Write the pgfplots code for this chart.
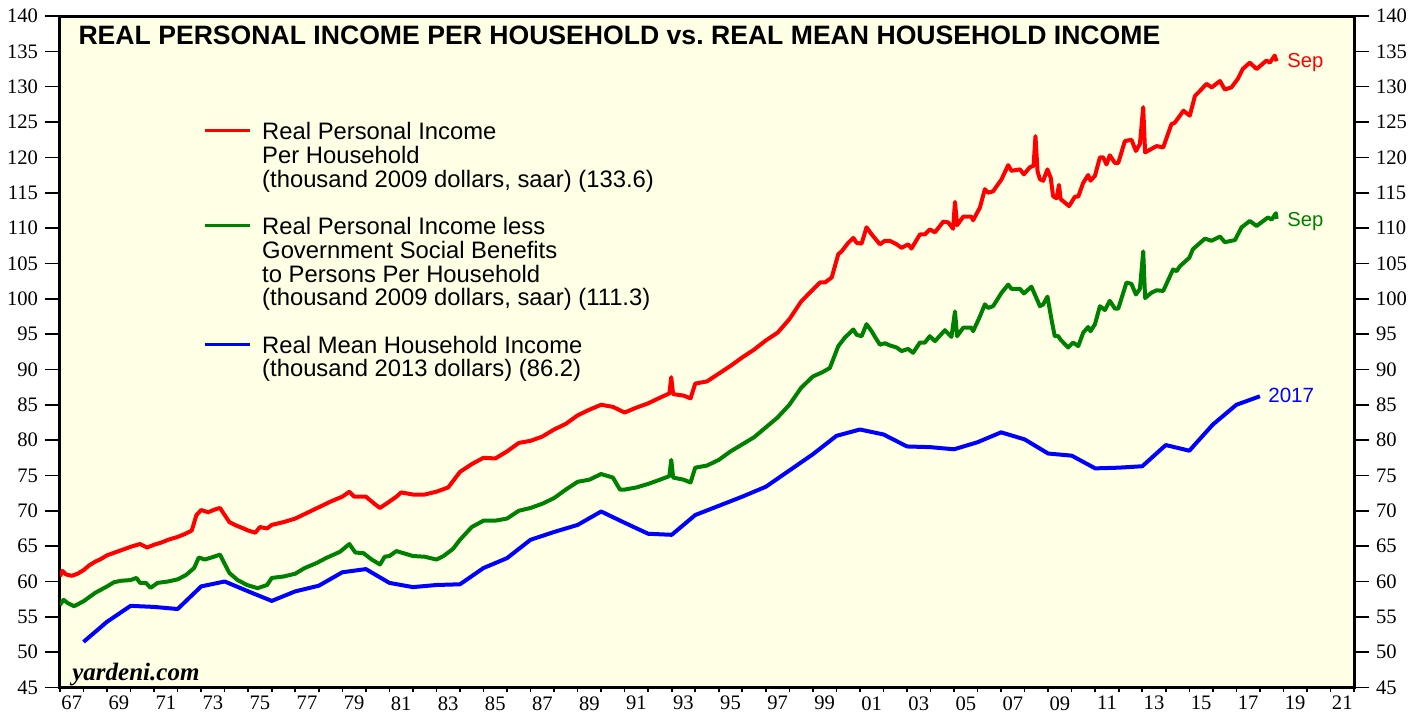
\documentclass[border=0pt]{standalone}
\usepackage{fontspec}
\setmainfont{Liberation Serif}
\newfontfamily\arial{Liberation Sans}
\usepackage{pgfplots}
\pgfplotsset{compat=1.18}
\definecolor{bgy}{RGB}{255,255,230}
\definecolor{rline}{RGB}{255,0,0}
\definecolor{gline}{RGB}{0,128,0}
\definecolor{bline}{RGB}{0,0,255}
\newcommand\ls{\rule[-3.56pt]{0pt}{11.86pt}}
\begin{document}
\begin{tikzpicture}
\begin{axis}[name=ax, scale only axis, width=647pt, height=335.75pt,
 xmin=1967, xmax=2022, ymin=45, ymax=140,
 axis background/.style={fill=bgy},
 axis line style={line width=1.5pt},
 tick align=outside, tick pos=left,
 major tick length=7.5pt, minor tick length=2.5pt,
 tick style={black, line width=0.8pt},
 ytick={45,50,...,140},
 xtick={1967.5,1969.5,...,2021.5},
 xticklabels={67,69,71,73,75,77,79,81,83,85,87,89,91,93,95,97,99,01,03,05,07,09,11,13,15,17,19,21},
 minor xtick={1967,1968,...,2022},
 every major x tick/.append style={draw=none},
 xticklabel style={yshift=6.6pt},
 ticklabel style={font=\fontsize{10.3}{12}\selectfont},
 /pgf/number format/assume math mode=true,
 legend style={at={(axis cs:1973.08,124.92)}, anchor=north west, draw=none, fill=none,
   inner sep=0pt, outer sep=0pt, row sep={11.85pt,between origins}, column sep=5.5pt,
   cells={anchor=base west}, nodes={inner sep=0pt},
   font=\arial\fontsize{11.9}{11.85}\selectfont},
 legend image code/.code={\draw[#1, line width=1.6pt] (0pt,4.5pt) -- (22.5pt,4.5pt);},
]
\addplot[rline, line width=2pt, line join=round] table {
1967.00 60.7
1967.10 61.5
1967.25 61.0
1967.50 60.8
1967.75 61.1
1968.00 61.6
1968.25 62.3
1968.50 62.8
1968.75 63.2
1969.00 63.7
1969.50 64.3
1970.00 64.9
1970.40 65.3
1970.70 64.8
1971.00 65.2
1971.30 65.5
1971.60 65.9
1972.00 66.3
1972.30 66.7
1972.60 67.2
1972.80 69.4
1973.00 70.1
1973.30 69.8
1973.60 70.2
1973.80 70.4
1974.00 69.4
1974.20 68.4
1974.50 67.9
1974.80 67.5
1975.00 67.2
1975.30 66.9
1975.50 67.7
1975.80 67.5
1976.00 68.0
1976.50 68.4
1977.00 68.9
1977.50 69.7
1978.00 70.5
1978.50 71.3
1979.00 72.0
1979.30 72.7
1979.50 72.0
1980.00 72.0
1980.40 70.9
1980.60 70.4
1981.00 71.3
1981.30 72.0
1981.50 72.6
1982.00 72.3
1982.50 72.3
1983.00 72.7
1983.50 73.3
1984.00 75.5
1984.50 76.6
1985.00 77.5
1985.50 77.4
1986.00 78.4
1986.50 79.6
1987.00 79.9
1987.50 80.5
1988.00 81.5
1988.50 82.3
1989.00 83.5
1989.50 84.3
1990.00 85.0
1990.50 84.7
1991.00 83.9
1991.50 84.6
1992.00 85.2
1992.50 86.0
1992.90 86.6
1992.98 88.9
1993.06 86.5
1993.50 86.3
1993.80 85.9
1994.00 88.0
1994.50 88.3
1995.00 89.4
1995.50 90.5
1996.00 91.7
1996.50 92.8
1997.00 94.1
1997.50 95.2
1998.00 97.1
1998.50 99.6
1999.00 101.3
1999.30 102.3
1999.51 102.3
1999.80 103.0
2000.08 106.3
2000.22 106.7
2000.50 107.9
2000.72 108.6
2000.86 107.9
2001.07 107.8
2001.28 110.1
2001.50 109.1
2001.85 107.7
2002.06 108.2
2002.27 108.2
2002.56 107.7
2002.77 107.2
2003.05 107.7
2003.19 107.1
2003.55 109.1
2003.76 109.1
2003.97 109.8
2004.19 109.4
2004.54 110.9
2004.75 110.8
2004.96 109.9
2005.04 113.7
2005.13 110.4
2005.39 111.6
2005.74 111.6
2005.81 111.1
2006.10 112.9
2006.31 115.5
2006.45 115.0
2006.66 115.2
2007.02 116.9
2007.30 118.9
2007.44 118.1
2007.80 118.3
2007.97 117.6
2008.22 118.6
2008.38 118.8
2008.46 123.0
2008.55 118.0
2008.65 116.9
2008.79 116.7
2008.97 118.3
2009.11 117.1
2009.21 114.5
2009.36 114.2
2009.46 116.1
2009.53 114.1
2009.71 113.6
2009.89 113.1
2010.14 114.45
2010.28 114.45
2010.49 116.4
2010.70 117.5
2010.80 116.7
2010.99 117.4
2011.20 120.0
2011.34 120.0
2011.48 119.0
2011.62 120.3
2011.84 119.2
2011.98 119.2
2012.26 122.3
2012.54 122.5
2012.73 120.9
2012.90 121.9
2013.04 127.1
2013.12 120.7
2013.39 121.2
2013.61 121.6
2013.89 121.4
2014.24 124.7
2014.38 124.9
2014.60 125.9
2014.75 126.6
2015.02 125.9
2015.24 128.7
2015.45 129.4
2015.73 130.4
2015.95 129.9
2016.30 130.8
2016.51 129.6
2016.79 129.9
2017.06 131.1
2017.27 132.5
2017.57 133.4
2017.86 132.5
2018.28 133.7
2018.42 133.4
2018.63 134.4
2018.71 133.6
};
\addlegendentry{Real Personal Income\ls}
\addlegendimage{empty legend}\addlegendentry{Per Household\ls}
\addlegendimage{empty legend}\addlegendentry{(thousand 2009 dollars, saar) (133.6)\ls}
\addlegendimage{empty legend}\addlegendentry{\ls}
\addplot[gline, line width=2pt, line join=round] table {
1967.00 56.7
1967.15 57.4
1967.35 56.9
1967.60 56.5
1968.00 57.2
1968.50 58.4
1969.00 59.3
1969.30 59.9
1969.60 60.1
1970.00 60.2
1970.25 60.5
1970.40 59.8
1970.65 59.8
1970.85 59.1
1971.15 59.8
1971.60 60.0
1972.00 60.3
1972.35 60.9
1972.70 61.9
1972.90 63.4
1973.15 63.1
1973.45 63.4
1973.80 63.8
1973.95 62.8
1974.20 61.2
1974.55 60.2
1974.95 59.5
1975.40 59.05
1975.80 59.5
1976.00 60.5
1976.50 60.7
1977.00 61.1
1977.40 61.9
1977.90 62.6
1978.30 63.3
1978.90 64.2
1979.30 65.3
1979.55 64.1
1979.90 64.0
1980.25 63.1
1980.60 62.4
1980.80 63.5
1981.00 63.6
1981.30 64.3
1981.60 64.0
1982.00 63.6
1982.50 63.5
1983.00 63.1
1983.30 63.6
1983.70 64.6
1984.00 65.9
1984.50 67.7
1985.00 68.6
1985.50 68.6
1986.00 68.9
1986.50 70.0
1987.00 70.4
1987.50 71.0
1988.00 71.8
1988.50 73.0
1989.00 74.1
1989.50 74.4
1990.00 75.2
1990.50 74.7
1990.80 73.0
1991.00 73.0
1991.50 73.3
1992.00 73.8
1992.50 74.4
1992.90 74.9
1992.98 77.2
1993.06 74.7
1993.50 74.4
1993.80 74.0
1994.00 76.1
1994.50 76.4
1995.00 77.2
1995.50 78.4
1996.00 79.4
1996.50 80.4
1997.00 81.8
1997.50 83.2
1998.00 85.0
1998.50 87.4
1999.00 89.0
1999.40 89.6
1999.72 90.2
2000.08 93.3
2000.36 94.5
2000.72 95.65
2000.86 94.9
2001.07 94.7
2001.28 96.4
2001.50 95.4
2001.64 94.6
2001.85 93.5
2002.06 93.7
2002.27 93.4
2002.56 93.1
2002.77 92.6
2003.05 92.9
2003.26 92.35
2003.55 93.8
2003.76 93.8
2003.97 94.7
2004.19 94.0
2004.61 95.55
2004.89 94.6
2005.04 98.2
2005.13 94.7
2005.39 95.9
2005.74 95.9
2005.81 95.4
2006.10 97.5
2006.31 99.2
2006.45 98.7
2006.66 98.95
2007.02 100.85
2007.30 102.0
2007.44 101.4
2007.80 101.4
2007.97 100.75
2008.29 101.7
2008.65 98.95
2008.79 99.2
2008.97 100.3
2009.14 97.1
2009.28 94.7
2009.43 94.7
2009.53 94.2
2009.85 93.1
2010.06 93.8
2010.28 93.3
2010.49 95.2
2010.70 96.0
2010.80 95.4
2010.99 96.4
2011.20 98.95
2011.41 98.4
2011.62 99.7
2011.84 98.6
2011.98 98.6
2012.33 102.3
2012.54 102.1
2012.73 100.6
2012.90 101.4
2013.04 106.7
2013.12 100.1
2013.39 100.85
2013.61 101.2
2013.89 101.1
2014.31 104.15
2014.46 103.9
2014.60 104.6
2015.00 105.8
2015.15 107.0
2015.66 108.5
2015.95 108.2
2016.30 108.8
2016.51 108.0
2016.94 108.3
2017.22 110.1
2017.57 111.0
2017.86 110.3
2018.34 111.5
2018.50 111.2
2018.68 112.1
2018.71 111.3
};
\addlegendentry{Real Personal Income less\ls}
\addlegendimage{empty legend}\addlegendentry{Government Social Benefits\ls}
\addlegendimage{empty legend}\addlegendentry{to Persons Per Household\ls}
\addlegendimage{empty legend}\addlegendentry{(thousand 2009 dollars, saar) (111.3)\ls}
\addlegendimage{empty legend}\addlegendentry{\ls}
\addplot[bline, line width=2pt, line join=round] table {
1968 51.45
1969 54.3
1970 56.55
1971 56.4
1972 56.1
1973 59.3
1974 60.0
1975 58.6
1976 57.25
1977 58.6
1978 59.4
1979 61.3
1980 61.75
1981 59.8
1982 59.2
1983 59.5
1984 59.6
1985 61.9
1986 63.3
1987 65.9
1988 67.0
1989 68.0
1990 69.9
1991 68.3
1992 66.75
1993 66.6
1994 69.4
1995 70.7
1996 72.0
1997 73.4
1998 75.7
1999 78.0
2000 80.6
2001 81.5
2002 80.8
2003 79.1
2004 79.0
2005 78.7
2006 79.7
2007 81.1
2008 80.1
2009 78.1
2010 77.8
2011 76.0
2012 76.1
2013 76.3
2014 79.3
2015 78.5
2016 82.2
2017 85.0
2018 86.2
};
\addlegendentry{Real Mean Household Income\ls}
\addlegendimage{empty legend}\addlegendentry{(thousand 2013 dollars) (86.2)\ls}
\node[anchor=base west, inner sep=0pt, font=\arial\bfseries\fontsize{13.3}{15}\selectfont] at (axis cs:1967.77,135.9) {REAL PERSONAL INCOME PER HOUSEHOLD vs.\ REAL MEAN HOUSEHOLD INCOME};
\node[anchor=base west, inner sep=0pt, font=\bfseries\itshape\fontsize{12.5}{14}\selectfont] at (axis cs:1967.51,46.06) {yardeni.com};
\node[anchor=base west, inner sep=0pt, text=rline, font=\arial\fontsize{10.1}{12}\selectfont] at (axis cs:2019.15,132.73) {Sep};
\node[anchor=base west, inner sep=0pt, text=gline, font=\arial\fontsize{10.1}{12}\selectfont] at (axis cs:2019.15,110.29) {Sep};
\node[anchor=base west, inner sep=0pt, text=bline, font=\arial\fontsize{10.3}{12}\selectfont] at (axis cs:2018.34,85.27) {2017};
\end{axis}
\begin{axis}[scale only axis, width=647pt, height=335.75pt,
 xmin=1967, xmax=2022, ymin=45, ymax=140,
 axis x line=none, axis y line*=right,
 axis line style={line width=1.5pt},
 tick align=outside, major tick length=7.5pt,
 tick style={black, line width=0.8pt},
 ytick={45,50,...,140},
 ticklabel style={font=\fontsize{10.3}{12}\selectfont},
 /pgf/number format/assume math mode=true]
\addplot[draw=none] coordinates {(1967,45)};
\end{axis}
\pgfresetboundingbox
\path[use as bounding box] ([shift={(-30pt,-15.75pt)}]ax.south west) rectangle ([shift={(36pt,8pt)}]ax.north east);
\end{tikzpicture}
\end{document}
